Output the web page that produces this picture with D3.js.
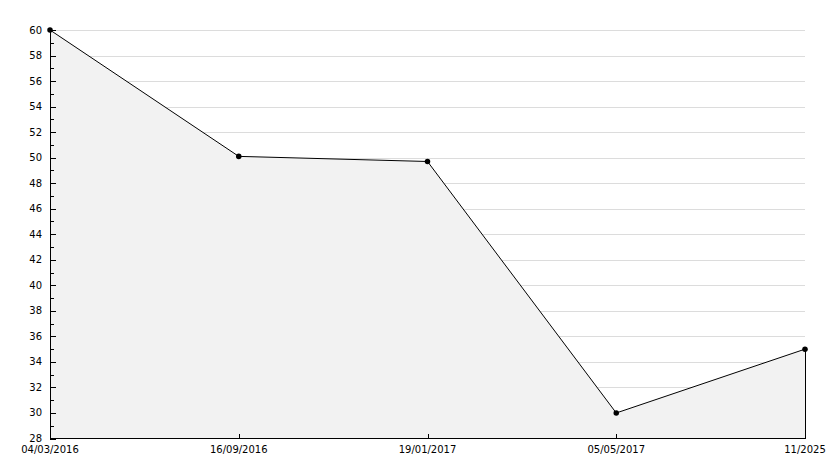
<!DOCTYPE html>
<html>
<head>
<meta charset="utf-8">
<script src="https://cdn.jsdelivr.net/npm/d3@7"></script>
<style>
  body { margin: 0; background: #fff; }
  text { font-family: "DejaVu Sans", Verdana, sans-serif; font-size: 10px; fill: #000; }
</style>
</head>
<body>
<svg id="chart" width="834" height="468"></svg>
<script>
var dates = ['04/03/2016', '16/09/2016', '19/01/2017', '05/05/2017', '11/2025'];
var values = [60, 50.1, 49.7, 30, 35];
var yMin = 28, yMax = 60;

var svg = d3.select('#chart');
var plotLeft = 50, plotRight = 805, plotTop = 30, plotBottom = 438.5;

var x = d3.scalePoint().domain(dates).range([plotLeft, plotRight]);
var y = d3.scaleLinear().domain([yMin, yMax]).range([plotBottom, plotTop]);

var majors = d3.range(yMin, yMax + 1, 2);
var minors = d3.range(yMin + 1, yMax, 2);

function py(d) { return Math.round(y(d)) + 0.5; }

// grid lines
svg.append('g').selectAll('line').data(majors.filter(function (d) { return d > yMin; }))
  .enter().append('line')
  .attr('x1', plotLeft).attr('x2', plotRight)
  .attr('y1', py).attr('y2', py)
  .attr('stroke', '#dcdcdc').attr('shape-rendering', 'crispEdges');

// area
var pts = dates.map(function (d, i) { return [x(d), y(values[i])]; });
var area = d3.area().x(function (d) { return d[0]; }).y0(plotBottom).y1(function (d) { return d[1]; });
svg.append('path').datum(pts).attr('d', area).attr('fill', '#f2f2f2');

// line
svg.append('path').datum(pts).attr('d', d3.line())
  .attr('fill', 'none').attr('stroke', '#000').attr('stroke-width', 1);

// right edge of area
var lastX = x(dates[dates.length - 1]);
svg.append('line')
  .attr('x1', lastX + 0.5).attr('x2', lastX + 0.5)
  .attr('y1', y(values[values.length - 1])).attr('y2', plotBottom)
  .attr('stroke', '#000').attr('shape-rendering', 'crispEdges');

// y axis
var yAxis = svg.append('g');
yAxis.append('line').attr('x1', plotLeft + 0.5).attr('x2', plotLeft + 0.5).attr('y1', plotTop).attr('y2', plotBottom)
  .attr('stroke', '#000').attr('stroke-width', 1.5).attr('shape-rendering', 'crispEdges');
yAxis.selectAll('.maj').data(majors).enter().append('line')
  .attr('x1', plotLeft).attr('x2', plotLeft + 6)
  .attr('y1', py).attr('y2', py)
  .attr('stroke', '#000').attr('shape-rendering', 'crispEdges');
yAxis.selectAll('.min').data(minors).enter().append('line')
  .attr('x1', plotLeft).attr('x2', plotLeft + 4)
  .attr('y1', py).attr('y2', py)
  .attr('stroke', '#000').attr('shape-rendering', 'crispEdges');
yAxis.selectAll('text').data(majors).enter().append('text')
  .attr('x', plotLeft - 8).attr('y', function (d) { return y(d) + 3.5; })
  .attr('text-anchor', 'end')
  .text(function (d) { return d; });

// x axis
var xAxis = svg.append('g');
xAxis.append('line').attr('x1', plotLeft).attr('x2', plotRight + 1).attr('y1', plotBottom).attr('y2', plotBottom)
  .attr('stroke', '#000').attr('stroke-width', 1.5).attr('shape-rendering', 'crispEdges');
xAxis.selectAll('.tick').data(dates).enter().append('line')
  .attr('x1', function (d) { return Math.round(x(d)) + 0.5; })
  .attr('x2', function (d) { return Math.round(x(d)) + 0.5; })
  .attr('y1', plotBottom).attr('y2', plotBottom - 5)
  .attr('stroke', '#000').attr('shape-rendering', 'crispEdges');
xAxis.selectAll('text').data(dates).enter().append('text')
  .attr('x', function (d) { return x(d); }).attr('y', plotBottom + 14)
  .attr('text-anchor', 'middle')
  .text(function (d) { return d; });

// markers
svg.append('g').selectAll('path').data(pts).enter().append('path')
  .attr('transform', function (d) { return 'translate(' + d[0] + ',' + d[1] + ')'; })
  .attr('d', d3.symbol().type(d3.symbolCircle).size(24))
  .attr('fill', '#000');
</script>
</body>
</html>
